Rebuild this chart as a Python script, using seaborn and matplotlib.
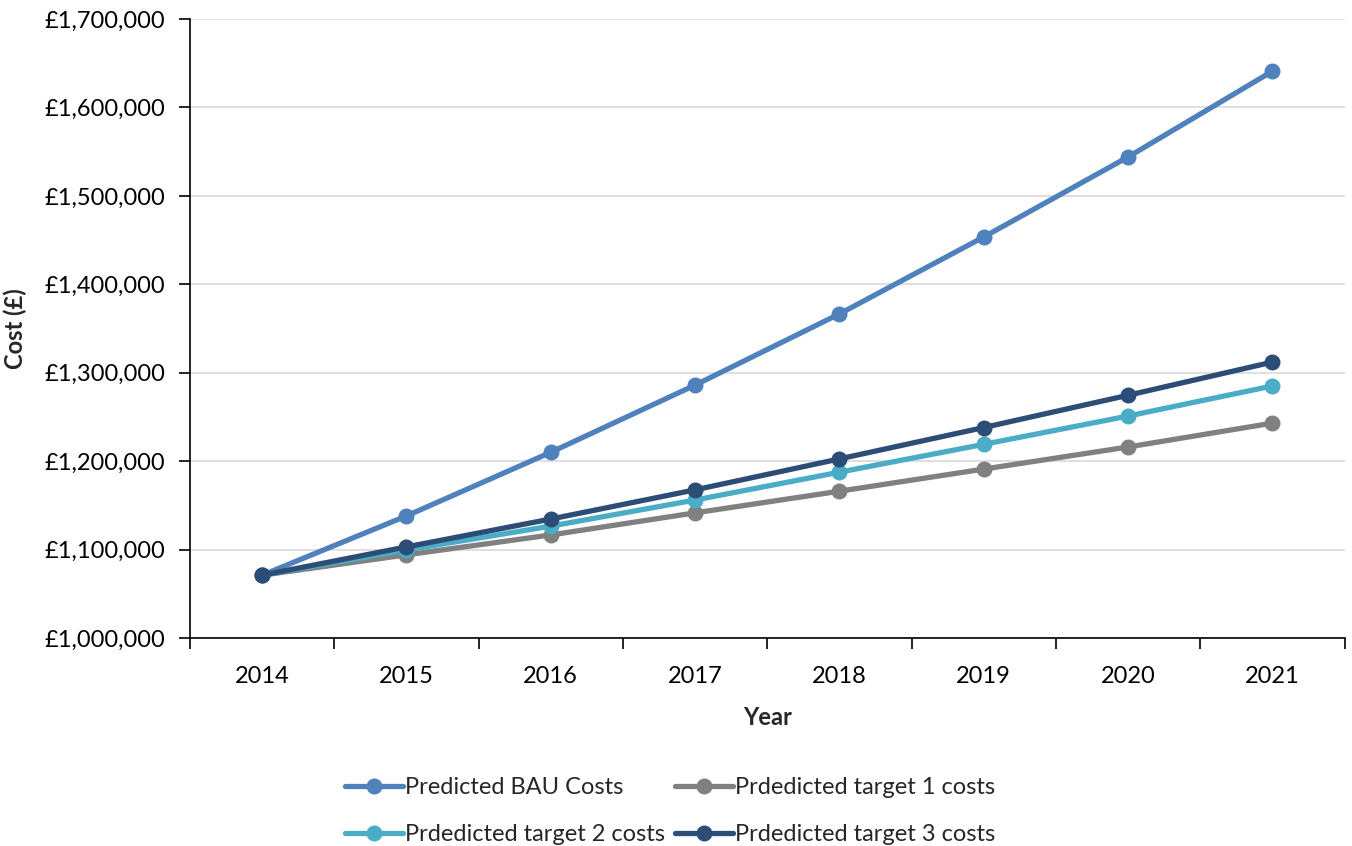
import numpy as np
import pandas as pd
import matplotlib
matplotlib.use("Agg")
import matplotlib.pyplot as plt
from matplotlib.ticker import FuncFormatter, MultipleLocator, FixedLocator
import seaborn as sns

years = ["2014", "2015", "2016", "2017", "2018", "2019", "2020", "2021"]
bau_costs = [1071000, 1138000, 1210000, 1286000, 1366500, 1453500, 1544000, 1641000]
target1_costs = [1071000, 1094000, 1116500, 1141500, 1166000, 1191000, 1216000, 1243000]
target2_costs = [1071000, 1099500, 1126500, 1156000, 1187500, 1219000, 1251000, 1285000]
target3_costs = [1071000, 1103000, 1134500, 1167500, 1202500, 1238000, 1274500, 1312000]

series_names = [
    "Predicted BAU Costs",
    "Prdedicted target 1 costs",
    "Prdedicted target 2 costs",
    "Prdedicted target 3 costs",
]
series_values = [bau_costs, target1_costs, target2_costs, target3_costs]
colors = ["#4F81BD", "#808080", "#4BACC6", "#2C4D75"]

rows = []
for name, vals in zip(series_names, series_values):
    for i, v in enumerate(vals):
        rows.append({"pos": i, "Year": years[i], "Cost": v, "Series": name})
df = pd.DataFrame(rows)

sns.set_theme(style="white")
plt.rcParams["font.family"] = ["Lato", "DejaVu Sans"]

FS = 17

fig = plt.figure(figsize=(13.52, 8.46), dpi=100)
ax = fig.add_axes([0.1405, 0.2459, 0.854, 0.7316])

sns.lineplot(
    data=df, x="pos", y="Cost", hue="Series", hue_order=series_names,
    palette=colors, marker="o", markersize=11.5, markeredgewidth=0,
    linewidth=3.8, ax=ax, legend=True,
)

ax.set_ylim(1000000, 1700000)
ax.set_xlim(-0.5, 7.5)
ax.yaxis.set_major_locator(MultipleLocator(100000))
ax.yaxis.set_major_formatter(FuncFormatter(lambda v, p: "£{:,.0f}".format(v)))
ax.grid(axis="y", color="#D9D9D9", linewidth=1.2)
ax.set_axisbelow(True)

ax.set_xticks(range(len(years)))
ax.set_xticklabels(years)
ax.xaxis.set_minor_locator(FixedLocator(np.arange(-0.5, 8, 1.0)))
ax.tick_params(axis="x", which="major", length=0, labelsize=FS, pad=20, colors="black")
ax.tick_params(axis="x", which="minor", length=8, width=1.2, direction="out", bottom=True, color="black")
ax.tick_params(axis="y", which="major", length=8, width=1.2, direction="out", left=True, labelsize=FS, pad=10, colors="black")

for side in ["top", "right"]:
    ax.spines[side].set_visible(False)
for side in ["left", "bottom"]:
    ax.spines[side].set_color("black")
    ax.spines[side].set_linewidth(1.2)

ax.set_xlabel("Year", fontsize=FS, fontweight="bold", labelpad=14)
ax.set_ylabel("Cost (£)", fontsize=FS, fontweight="bold", labelpad=12)

# legend reads row by row: BAU, target 1 / target 2, target 3
handles, labels = ax.get_legend_handles_labels()
order = [0, 2, 1, 3]
ax.legend(
    [handles[i] for i in order], [labels[i] for i in order],
    loc="upper left", bbox_to_anchor=(0.116, -0.19),
    ncol=2, frameon=False, fontsize=FS, handlelength=2.45, handletextpad=0.1,
    columnspacing=0.4, labelspacing=1.1,
)

fig.savefig("out.png", dpi=100)
